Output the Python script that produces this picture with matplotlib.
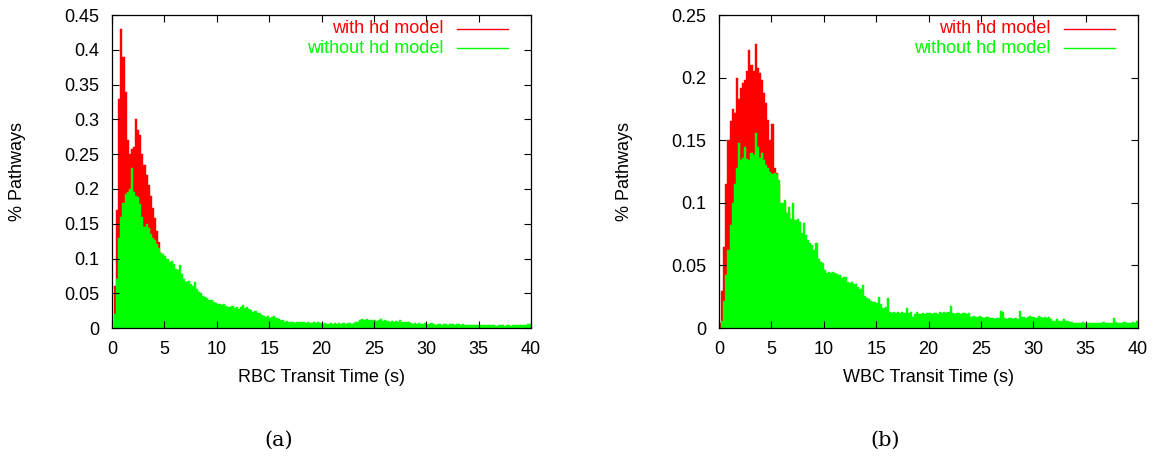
import numpy as np
import matplotlib
matplotlib.use('Agg')
import matplotlib.pyplot as plt
from matplotlib.ticker import FormatStrFormatter

plt.rcParams['font.family'] = ['Liberation Sans', 'DejaVu Sans']

# histogram bins: 0.2 s wide, 0 .. 40 s
bin_width = 0.2

# RBC transit time, without hd model (green), 200 bins
rbc_without = [
    0.0, 0.02, 0.07, 0.13, 0.16, 0.18, 0.193, 0.196, 0.2, 0.23,
    0.195, 0.19, 0.188, 0.178, 0.16, 0.146, 0.15, 0.144, 0.135, 0.13,
    0.126, 0.121, 0.115, 0.108, 0.106, 0.104, 0.099, 0.095, 0.097, 0.092,
    0.085, 0.083, 0.09, 0.078, 0.07, 0.066, 0.068, 0.064, 0.06, 0.066,
    0.056, 0.052, 0.05, 0.046, 0.044, 0.043, 0.04, 0.041, 0.037, 0.036,
    0.034, 0.035, 0.033, 0.035, 0.032, 0.031, 0.030, 0.032, 0.029, 0.031,
    0.028, 0.030, 0.033, 0.029, 0.030, 0.028, 0.026, 0.023, 0.024, 0.022,
    0.021, 0.019, 0.017, 0.016, 0.017, 0.015, 0.016, 0.018, 0.014, 0.013,
    0.012, 0.011, 0.008, 0.010, 0.009, 0.009, 0.008, 0.007, 0.009, 0.008,
    0.008, 0.009, 0.007, 0.008, 0.007, 0.007, 0.008, 0.007, 0.008, 0.007,
    0.006, 0.007, 0.006, 0.006, 0.007, 0.006, 0.007, 0.006, 0.007, 0.006,
    0.007, 0.006, 0.007, 0.007, 0.006, 0.007, 0.008, 0.009, 0.012, 0.013,
    0.012, 0.013, 0.011, 0.012, 0.011, 0.012, 0.010, 0.011, 0.013, 0.010,
    0.011, 0.010, 0.009, 0.010, 0.009, 0.010, 0.009, 0.011, 0.009, 0.008,
    0.009, 0.008, 0.007, 0.006, 0.007, 0.006, 0.007, 0.006, 0.006, 0.007,
    0.006, 0.006, 0.007, 0.006, 0.005, 0.006, 0.006, 0.005, 0.006, 0.006,
    0.005, 0.006, 0.006, 0.005, 0.006, 0.006, 0.005, 0.006, 0.005, 0.005,
    0.005, 0.005, 0.004, 0.005, 0.005, 0.004, 0.005, 0.004, 0.004, 0.004,
    0.004, 0.004, 0.004, 0.003, 0.004, 0.004, 0.004, 0.003, 0.004, 0.004,
    0.003, 0.004, 0.004, 0.004, 0.004, 0.004, 0.004, 0.005, 0.006, 0.006,
]

# RBC transit time, with hd model (red); beyond 7 s it sits under the green
rbc_with = [
    0.0, 0.06, 0.17, 0.33, 0.43, 0.39, 0.34, 0.27, 0.25, 0.258,
    0.26, 0.30, 0.285, 0.278, 0.25, 0.235, 0.22, 0.205, 0.19, 0.172,
    0.158, 0.14, 0.124, 0.108, 0.1, 0.096, 0.09, 0.088, 0.085, 0.082,
    0.08, 0.078, 0.075, 0.07, 0.066,
]

# WBC transit time, without hd model (green), 200 bins
wbc_without = [
    0.0, 0.006, 0.022, 0.042, 0.062, 0.082, 0.1, 0.115, 0.128, 0.148,
    0.134, 0.136, 0.145, 0.135, 0.134, 0.14, 0.138, 0.156, 0.145, 0.136,
    0.14, 0.134, 0.13, 0.128, 0.125, 0.123, 0.124, 0.123, 0.118, 0.1,
    0.1, 0.102, 0.092, 0.097, 0.087, 0.1, 0.086, 0.087, 0.085, 0.076,
    0.084, 0.074, 0.07, 0.068, 0.066, 0.062, 0.068, 0.055, 0.053, 0.052,
    0.046, 0.044, 0.045, 0.044, 0.045, 0.044, 0.043, 0.042, 0.040, 0.041,
    0.041, 0.037, 0.036, 0.037, 0.035, 0.035, 0.033, 0.031, 0.034, 0.026,
    0.024, 0.023, 0.022, 0.021, 0.021, 0.020, 0.025, 0.019, 0.016, 0.017,
    0.024, 0.013, 0.012, 0.013, 0.012, 0.013, 0.012, 0.013, 0.012, 0.016,
    0.012, 0.013, 0.009, 0.011, 0.013, 0.011, 0.011, 0.012, 0.011, 0.012,
    0.012, 0.011, 0.012, 0.012, 0.011, 0.013, 0.012, 0.013, 0.012, 0.013,
    0.018, 0.012, 0.011, 0.012, 0.012, 0.011, 0.012, 0.012, 0.011, 0.012,
    0.009, 0.010, 0.009, 0.009, 0.010, 0.009, 0.008, 0.009, 0.009, 0.008,
    0.008, 0.007, 0.008, 0.008, 0.014, 0.013, 0.008, 0.007, 0.008, 0.008,
    0.007, 0.008, 0.007, 0.014, 0.009, 0.009, 0.008, 0.009, 0.010, 0.009,
    0.009, 0.008, 0.010, 0.009, 0.008, 0.009, 0.008, 0.009, 0.007, 0.006,
    0.006, 0.007, 0.006, 0.006, 0.007, 0.006, 0.006, 0.005, 0.005, 0.004,
    0.004, 0.004, 0.004, 0.005, 0.004, 0.004, 0.004, 0.004, 0.004, 0.004,
    0.004, 0.004, 0.004, 0.005, 0.004, 0.004, 0.004, 0.004, 0.008, 0.005,
    0.004, 0.004, 0.004, 0.005, 0.004, 0.004, 0.004, 0.005, 0.004, 0.006,
]

# WBC transit time, with hd model (red)
wbc_with = [
    0.004, 0.03, 0.065, 0.115, 0.15, 0.165, 0.175, 0.172, 0.2, 0.183,
    0.192, 0.196, 0.198, 0.205, 0.222, 0.21, 0.205, 0.227, 0.208, 0.204,
    0.198, 0.188, 0.18, 0.166, 0.15, 0.163, 0.128, 0.124, 0.115, 0.098,
    0.097, 0.098, 0.09, 0.092, 0.085,
]

panels = [
    (rbc_with, rbc_without, 'RBC Transit Time (s)', 0.45, 0.05, '(a)'),
    (wbc_with, wbc_without, 'WBC Transit Time (s)', 0.25, 0.05, '(b)'),
]

fs = 13

fig = plt.figure(figsize=(11.56, 4.66), dpi=100)
lefts = [0.0969, 0.622]

for left, (red, green, xlabel, ymax, ystep, tag) in zip(lefts, panels):
    ax = fig.add_axes([left, 0.296, 0.3625, 0.6717])
    xr = (np.arange(len(red)) + 0.5) * bin_width
    xg = (np.arange(len(green)) + 0.5) * bin_width
    ax.bar(xr, red, width=bin_width, color='#ff0000', edgecolor='#ff0000',
           linewidth=0.3)
    ax.bar(xg, green, width=bin_width, color='#00ff00', edgecolor='#00ff00',
           linewidth=0.3)

    ax.set_xlim(0, 40)
    ax.set_ylim(0, ymax)
    ax.set_xticks(np.arange(0, 41, 5))
    ax.set_yticks(np.arange(0, ymax + 1e-9, ystep))
    ax.yaxis.set_major_formatter(FormatStrFormatter('%g'))
    ax.tick_params(direction='in', top=True, right=True, length=5,
                   width=0.8, labelsize=fs, colors='black')
    ax.tick_params(axis='x', pad=9)
    ax.tick_params(axis='y', pad=9)
    for s in ax.spines.values():
        s.set_linewidth(0.9)

    ax.set_xlabel(xlabel, fontsize=fs)
    ax.set_ylabel('% Pathways', fontsize=fs)
    ax.xaxis.set_label_coords(0.5, -0.13)
    ax.yaxis.set_label_coords(-0.205, 0.5)

    # key in the upper right corner
    ax.text(0.79, 0.957, 'with hd model', color='#ff0000', fontsize=fs,
            ha='right', va='center', transform=ax.transAxes)
    ax.text(0.79, 0.894, 'without hd model', color='#00ff00', fontsize=fs,
            ha='right', va='center', transform=ax.transAxes)
    ax.plot([0.823, 0.944], [0.957, 0.957], color='#ff0000', lw=1,
            transform=ax.transAxes)
    ax.plot([0.823, 0.944], [0.894, 0.894], color='#00ff00', lw=1,
            transform=ax.transAxes)

    ax.text(0.397, -0.358, tag, fontsize=15, family='DejaVu Serif',
            ha='center', va='center', transform=ax.transAxes)

fig.savefig('out.png', dpi=100)
